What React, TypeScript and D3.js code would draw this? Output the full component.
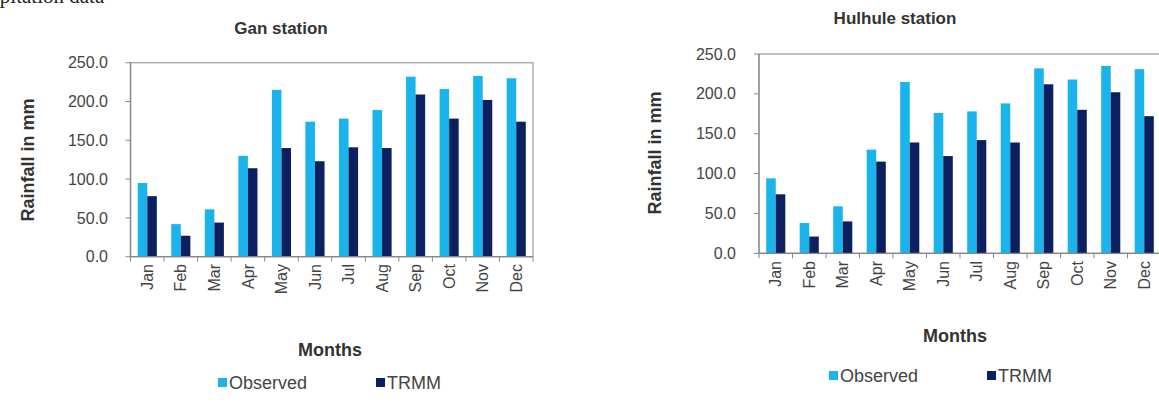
import React from "react";
import * as d3 from "d3";

const months = ["Jan", "Feb", "Mar", "Apr", "May", "Jun", "Jul", "Aug", "Sep", "Oct", "Nov", "Dec"];
const yTicks = [0, 50, 100, 150, 200, 250];
const seriesNames = ["Observed", "TRMM"];

const ganObserved = [95, 42, 61, 130, 215, 174, 178, 189, 232, 216, 233, 230];
const ganTRMM = [78, 27, 44, 114, 140, 123, 141, 140, 209, 178, 202, 174];

const hulObserved = [94, 38, 59, 130, 215, 176, 178, 188, 232, 218, 235, 231];
const hulTRMM = [74, 21, 40, 115, 139, 122, 142, 139, 212, 180, 202, 172];

const COLORS = ["#1bb3ec", "#0c1f5e"];
const FONT = "'Liberation Sans', Arial, sans-serif";

type Layout = {
  title: string;
  titleX: number;
  titleY: number;
  x0: number;
  x1: number;
  yTop: number;
  yBottom: number;
  yLabelX: number;
  yLabelY: number;
  tickLabelRight: number;
  monthTop: number;
  monthsX: number;
  monthsY: number;
  legendX: number;
  legendX2: number;
  legendY: number;
};

function Chart({ obs, trmm, L }: { obs: number[]; trmm: number[]; L: Layout }) {
  const x = d3.scaleBand<string>().domain(months).range([L.x0, L.x1]).padding(0);
  const y = d3.scaleLinear().domain([0, 250]).range([L.yBottom, L.yTop]);
  const bw = x.bandwidth();
  const groupW = bw * 0.57;
  const sub = d3.scaleBand<string>().domain(seriesNames).range([0, groupW]).padding(0);
  const series = [obs, trmm];
  const fmt = d3.format(".1f");
  return (
    <g>
      <text x={L.titleX} y={L.titleY} textAnchor="middle" fontFamily={FONT} fontWeight="bold" fontSize={17} fill="#333">
        {L.title}
      </text>
      <rect x={L.x0} y={L.yTop} width={L.x1 - L.x0} height={L.yBottom - L.yTop} fill="#fff" stroke="#b0b0b0" strokeWidth={1.5} />
      {series.map((vals, si) =>
        vals.map((v, i) => (
          <rect
            key={`${si}-${i}`}
            x={(x(months[i]) as number) + (bw - groupW) / 2 + (sub(seriesNames[si]) as number)}
            y={y(v)}
            width={sub.bandwidth()}
            height={y(0) - y(v)}
            fill={COLORS[si]}
          />
        ))
      )}
      <line x1={L.x0} x2={L.x0} y1={L.yTop} y2={L.yBottom} stroke="#888" strokeWidth={1.2} />
      <line x1={L.x0} x2={L.x1} y1={L.yBottom} y2={L.yBottom} stroke="#888" strokeWidth={1.2} />
      {yTicks.map((t) => (
        <g key={t}>
          <line x1={L.x0 - 5} x2={L.x0} y1={y(t)} y2={y(t)} stroke="#888" />
          <text x={L.tickLabelRight} y={y(t)} dy="0.35em" textAnchor="end" fontFamily={FONT} fontSize={16} fill="#444">
            {fmt(t)}
          </text>
        </g>
      ))}
      {months.map((m, i) => (
        <g key={m}>
          <line x1={(x(m) as number) + bw} x2={(x(m) as number) + bw} y1={L.yBottom} y2={L.yBottom + 5} stroke="#888" />
          <text
            transform={`translate(${(x(m) as number) + bw / 2},${L.monthTop}) rotate(-90)`}
            dy="0.35em"
            textAnchor="end"
            fontFamily={FONT}
            fontSize={16}
            fill="#444"
          >
            {m}
          </text>
        </g>
      ))}
      <line x1={L.x0} x2={L.x0} y1={L.yBottom} y2={L.yBottom + 5} stroke="#888" />
      <text
        transform={`translate(${L.yLabelX},${L.yLabelY}) rotate(-90)`}
        textAnchor="middle"
        dy="0.35em"
        fontFamily={FONT}
        fontWeight="bold"
        fontSize={18}
        fill="#333"
      >
        Rainfall in mm
      </text>
      <text x={L.monthsX} y={L.monthsY} textAnchor="middle" dy="0.35em" fontFamily={FONT} fontWeight="bold" fontSize={18} fill="#333">
        Months
      </text>
      {seriesNames.map((s, si) => {
        const lx = si === 0 ? L.legendX : L.legendX2;
        return (
          <g key={s}>
            <rect x={lx} y={L.legendY - 5} width={9} height={9} fill={COLORS[si]} />
            <text x={lx + 11} y={L.legendY} dy="0.35em" fontFamily={FONT} fontSize={18} fill="#444">
              {s}
            </text>
          </g>
        );
      })}
    </g>
  );
}

const leftLayout: Layout = {
  title: "Gan station",
  titleX: 281,
  titleY: 34,
  x0: 130.5,
  x1: 533,
  yTop: 62.7,
  yBottom: 256.7,
  yLabelX: 28,
  yLabelY: 160,
  tickLabelRight: 108,
  monthTop: 264,
  monthsX: 330,
  monthsY: 350,
  legendX: 218,
  legendX2: 376,
  legendY: 383,
};

const rightLayout: Layout = {
  title: "Hulhule station",
  titleX: 895,
  titleY: 24,
  x0: 759,
  x1: 1161,
  yTop: 54,
  yBottom: 253.3,
  yLabelX: 655,
  yLabelY: 153,
  tickLabelRight: 736,
  monthTop: 261,
  monthsX: 955,
  monthsY: 336,
  legendX: 829,
  legendX2: 987,
  legendY: 376,
};

export default function App() {
  return (
    <svg width={1159} height={405} style={{ position: "absolute", left: 0, top: 0, background: "#fff" }}>
      <rect x={0} y={0} width={1159} height={405} fill="#fff" />
      <text x={-6} y={3} fontFamily="'Liberation Serif', 'Times New Roman', serif" fontSize={21} fill="#222">
        ipitation data
      </text>
      <Chart obs={ganObserved} trmm={ganTRMM} L={leftLayout} />
      <Chart obs={hulObserved} trmm={hulTRMM} L={rightLayout} />
    </svg>
  );
}
